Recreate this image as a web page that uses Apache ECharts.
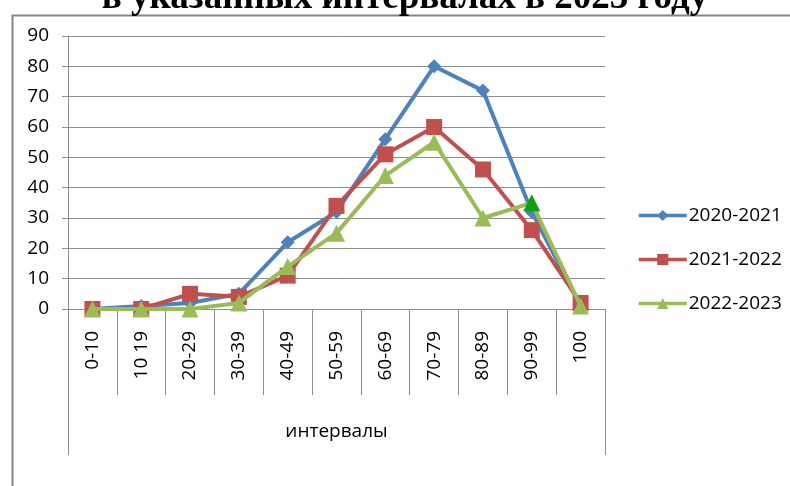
<!DOCTYPE html>
<html><head><meta charset="utf-8">
<script src="https://cdn.jsdelivr.net/npm/echarts@6/dist/echarts.min.js"></script>
<style>html,body{margin:0;padding:0;background:#fff}#c{width:790px;height:486px}</style>
</head><body><div id="c"></div>
<script>
const titleText = 'в указанных интервалах в 2023 году';
const categories = ['0-10','10 19','20-29','30-39','40-49','50-59','60-69','70-79','80-89','90-99','100'];
const groupLabel = ['интервалы'];
const seriesNames = ['2020-2021','2021-2022','2022-2023'];
const s2021 = [0, 1, 2, 5, 22, 32, 56, 80, 72, 32, 1];
const s2022 = [0, 0, 5, 4, 11, 34, 51, 60, 46, 26, 2];
const s2023 = [0, 0, 0, 2, 14, 25, 44, 55, 30, 35, 1];
const yTicks = [0, 10, 20, 30, 40, 50, 60, 70, 80, 90];

const font = '"Open Sans", sans-serif';
const gridCol = '#8e8e8e';
const chart = echarts.init(document.getElementById('c'), null, {renderer:'canvas'});
const colors = ['#4f81bd','#c0504d','#9bbb59'];
const symbols = ['diamond','rect','triangle'];
const sizes = [14, 16, 17];
const values = [s2021, s2022, s2023];

chart.setOption({
  animation:false,
  title:{text:titleText, left:400, textAlign:'center', top:-25,
    textStyle:{fontFamily:'"Liberation Serif", serif', fontWeight:'bold', fontSize:37, color:'#000'}},
  graphic:[{type:'rect', left:10, top:13, z:-10, silent:true,
    shape:{width:900, height:600}, style:{fill:'none', stroke:'#868686', lineWidth:2}}],
  legend:{orient:'vertical', left:632, top:201, itemWidth:48, itemHeight:14, itemGap:25,
    lineStyle:{width:3.5}, textStyle:{fontFamily:font, fontSize:19, color:'#000', padding:[0,0,0,-3]},
    data:seriesNames},
  grid:{left:68, right:185, top:36, bottom:177},
  xAxis:[{type:'category', data:categories, boundaryGap:true,
    axisLine:{lineStyle:{color:gridCol, width:1}},
    axisTick:{show:true, interval:0, length:86, lineStyle:{color:gridCol}},
    axisLabel:{interval:0, rotate:90, margin:22, fontFamily:font, fontSize:19, color:'#000'}},
   {type:'category', data:groupLabel, position:'bottom', boundaryGap:true,
    axisLine:{show:false},
    axisTick:{show:true, length:146, lineStyle:{color:gridCol}},
    axisLabel:{margin:113, fontFamily:font, fontSize:19, color:'#000'}}],
  yAxis:{type:'value', min:yTicks[0], max:yTicks[yTicks.length-1], interval:yTicks[1]-yTicks[0],
    axisLine:{show:true, lineStyle:{color:gridCol}},
    axisTick:{show:true, length:6, lineStyle:{color:gridCol}},
    axisLabel:{margin:19, fontFamily:font, fontSize:19, color:'#000'},
    splitLine:{lineStyle:{color:gridCol, width:1}}},
  series:seriesNames.map((n,k)=>({
    name:n, type:'line', xAxisIndex:0,
    data:values[k].map((v,i)=> (k===2 && i===9) ? {value:v, itemStyle:{color:'#10a010'}} : v),
    symbol:symbols[k], symbolSize:sizes[k], showSymbol:true,
    lineStyle:{color:colors[k], width:4},
    itemStyle:{color:colors[k]}, z:2+k
  }))
});
</script></body></html>
